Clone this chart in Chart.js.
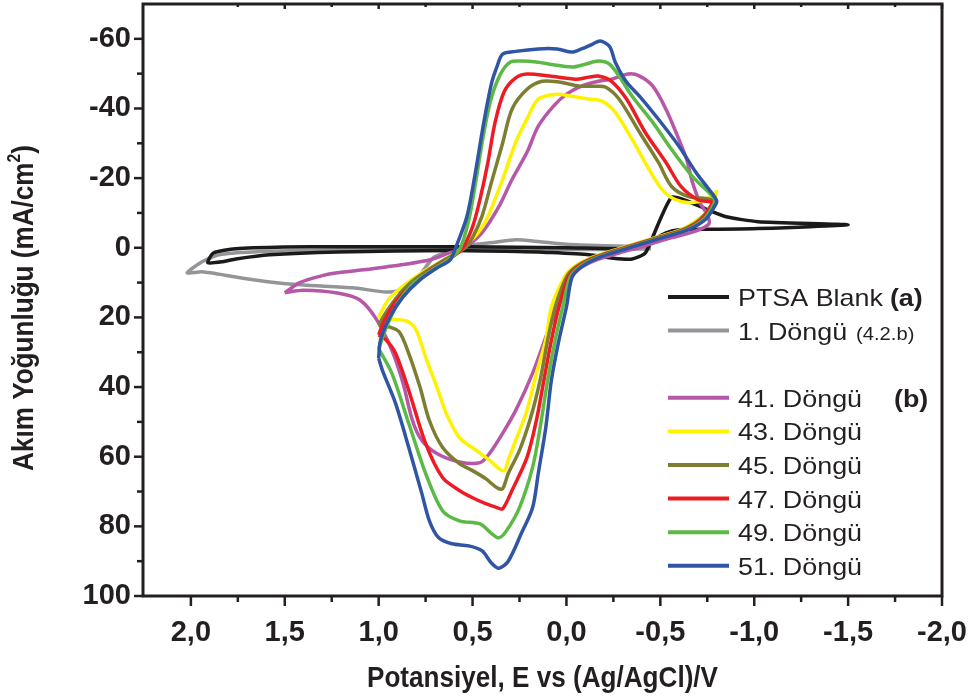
<!DOCTYPE html>
<html>
<head>
<meta charset="utf-8">
<script src="https://cdn.jsdelivr.net/npm/chart.js@4/dist/chart.umd.min.js"></script>
<style>
  html, body { margin: 0; padding: 0; background: #fff; }
</style>
</head>
<body>
<canvas id="chart" width="970" height="696"></canvas>
<script>
// Cyclic voltammograms: potential E (V vs Ag/AgCl) and current density J (mA/cm2)

var blankE = [0.15, 0.60, 1.22, 1.58, 1.76, 1.83, 1.91, 1.88, 1.76, 1.50, 1.22, 0.52, 0.00, -0.35, -0.44, -0.53, -0.60, -0.80, -1.02, -1.50, -1.02, -0.85, -0.74, -0.64, -0.56, -0.49, -0.42, -0.35, -0.25, -0.12, 0.15];
var blankJ = [1.2, 0.8, 1.2, 2.0, 3.2, 4.0, 4.3, 1.5, 0.3, -0.2, -0.3, -0.3, 0.0, 0.2, -1.7, -4.3, -5.2, -5.3, -5.5, -6.6, -7.5, -8.9, -11.2, -13.5, -14.5, -7.0, 1.5, 3.2, 3.0, 2.0, 1.2];

var cycle1E = [-0.45, -0.20, 0.00, 0.30, 0.60, 1.22, 1.67, 1.85, 1.94, 2.02, 1.94, 1.76, 1.58, 1.40, 1.14, 0.96, 0.87, 0.80, 0.71, 0.64, 0.50, 0.38, 0.27, 0.15, 0.00, -0.20, -0.45];
var cycle1J = [0.3, 0.5, 0.5, 0.5, 0.3, 0.6, 1.2, 2.0, 4.0, 7.2, 6.9, 8.4, 9.8, 10.7, 11.5, 12.7, 12.1, 9.2, 2.9, 1.4, -0.8, -1.6, -2.3, -1.8, -1.0, -0.6, -0.3];

var cycle41E = [1.50, 1.42, 1.30, 1.22, 0.96, 0.73, 0.62, 0.55, 0.45, 0.36, 0.29, 0.21, 0.15, 0.07, 0.00, -0.08, -0.17, -0.24, -0.33, -0.39, -0.46, -0.53, -0.60, -0.64, -0.67, -0.71, -0.75,
  -0.76, -0.72, -0.64, -0.52, -0.40, -0.28, -0.16, -0.07, -0.02, 0.02, 0.09, 0.18, 0.27, 0.34, 0.41, 0.46, 0.57, 0.69, 0.77, 0.82, 0.87, 0.93, 1.01, 1.10, 1.22, 1.40, 1.50];
var cycle41J = [12.9, 10.0, 8.0, 7.2, 5.5, 3.5, 1.4, 0.2, -4.3, -11.8, -19.6, -27.4, -34.9, -40.6, -44.1, -46.4, -47.8, -48.4, -49.9, -49.3, -46.4, -39.8, -31.0, -25.4, -19.0, -13.0, -9.5,
  -7.0, -5.5, -4.0, -2.3, -0.3, 1.5, 3.5, 6.0, 9.0, 14.0, 22.8, 36.0, 46.7, 53.3, 59.1, 61.7, 61.5, 59.1, 55.3, 49.6, 38.9, 29.4, 20.7, 15.0, 13.0, 12.2, 12.9];

var cycle43E = [1.00, 0.95, 0.87, 0.78, 0.70, 0.62, 0.53, 0.46, 0.41, 0.34, 0.27, 0.21, 0.15, 0.05, -0.03, -0.12, -0.19, -0.26, -0.35, -0.44, -0.51, -0.58, -0.67, -0.77, -0.80,
  -0.76, -0.70, -0.61, -0.49, -0.35, -0.26, -0.13, -0.04, 0.01, 0.08, 0.11, 0.16, 0.21, 0.27, 0.31, 0.33, 0.36, 0.41, 0.48, 0.57, 0.64, 0.69, 0.75, 0.80, 0.84, 0.89, 0.94, 1.00];
var cycle43J = [20.0, 15.0, 11.0, 7.5, 5.0, 2.5, -1.0, -5.0, -10.0, -19.6, -30.3, -37.0, -42.7, -44.1, -43.5, -42.7, -42.1, -38.9, -31.1, -22.5, -16.7, -13.8, -13.0, -14.7, -16.1,
  -11.0, -8.1, -5.2, -3.2, -0.9, 0.6, 2.9, 5.5, 8.4, 17.0, 26.5, 36.0, 46.7, 55.3, 61.0, 64.0, 63.4, 61.0, 58.2, 54.5, 47.6, 40.0, 31.4, 23.6, 21.3, 20.7, 20.5, 20.0];

var cycle45E = [1.00, 0.96, 0.90, 0.83, 0.74, 0.66, 0.54, 0.50, 0.45, 0.40, 0.34, 0.29, 0.21, 0.13, 0.04, -0.07, -0.16, -0.21, -0.28, -0.39, -0.49, -0.56, -0.65, -0.77,
  -0.77, -0.71, -0.62, -0.50, -0.36, -0.27, -0.14, -0.05, 0.00, 0.06, 0.10, 0.14, 0.19, 0.25, 0.31, 0.34, 0.37, 0.43, 0.50, 0.57, 0.66, 0.73, 0.78, 0.84, 0.89, 0.94, 1.00];
var cycle45J = [22.2, 18.5, 14.0, 10.0, 6.5, 3.8, 0.0, -3.0, -9.0, -18.7, -30.0, -39.8, -45.5, -47.8, -47.6, -46.4, -46.4, -46.1, -42.7, -33.1, -24.5, -17.6, -14.7, -13.8,
  -12.0, -8.1, -5.2, -3.2, -0.9, 0.6, 2.9, 5.5, 8.4, 17.0, 26.5, 38.0, 48.7, 58.2, 64.8, 69.2, 68.9, 66.3, 64.0, 62.0, 57.3, 49.6, 40.0, 30.3, 24.2, 22.8, 22.2];

var cycle47E = [1.00, 0.97, 0.91, 0.83, 0.74, 0.66, 0.56, 0.50, 0.46, 0.42, 0.38, 0.33, 0.27, 0.21, 0.09, -0.05, -0.12, -0.17, -0.24, -0.32, -0.42, -0.53, -0.61, -0.70, -0.78,
  -0.77, -0.72, -0.63, -0.51, -0.37, -0.28, -0.15, -0.06, -0.01, 0.04, 0.08, 0.12, 0.16, 0.21, 0.29, 0.34, 0.37, 0.43, 0.50, 0.57, 0.66, 0.75, 0.84, 0.91, 0.96, 1.00];
var cycle47J = [25.0, 21.0, 15.5, 11.0, 7.0, 4.3, 0.6, -6.0, -14.0, -24.0, -36.0, -45.0, -48.8, -49.9, -49.3, -48.4, -49.0, -49.3, -47.8, -42.7, -33.1, -24.5, -17.6, -13.8, -13.0,
  -12.0, -8.1, -5.2, -3.2, -0.9, 0.6, 2.9, 5.5, 8.4, 17.0, 26.5, 38.0, 49.6, 60.2, 69.7, 75.0, 74.6, 73.5, 71.8, 69.7, 66.0, 56.2, 40.9, 30.3, 26.5, 25.0];

var cycle49E = [1.00, 0.96, 0.90, 0.82, 0.72, 0.64, 0.57, 0.52, 0.48, 0.44, 0.40, 0.35, 0.30, 0.24, 0.15, 0.09, -0.03, -0.10, -0.17, -0.23, -0.28, -0.35, -0.46, -0.56, -0.67, -0.76, -0.79,
  -0.78, -0.73, -0.64, -0.52, -0.38, -0.29, -0.16, -0.07, -0.02, 0.02, 0.06, 0.10, 0.14, 0.18, 0.25, 0.32, 0.36, 0.40, 0.46, 0.57, 0.66, 0.75, 0.84, 0.93, 1.00];
var cycle49J = [29.0, 23.0, 16.0, 10.5, 6.5, 3.8, 0.6, -8.0, -20.0, -33.0, -43.0, -50.0, -53.3, -53.6, -53.3, -52.7, -51.9, -52.7, -53.6, -52.7, -49.3, -43.5, -36.0, -28.2, -20.5, -15.8, -13.8,
  -12.0, -8.1, -5.2, -3.2, -0.9, 0.6, 2.9, 5.5, 8.4, 17.0, 26.5, 38.0, 51.6, 63.0, 74.6, 81.3, 83.3, 82.0, 79.3, 78.4, 75.5, 64.8, 50.4, 36.0, 29.0];

var cycle51E = [1.00, 0.99, 0.94, 0.87, 0.78, 0.69, 0.62, 0.59, 0.53, 0.49, 0.44, 0.40, 0.37, 0.34, 0.27, 0.15, 0.05, -0.03, -0.08, -0.14, -0.18, -0.23, -0.26, -0.32, -0.39, -0.49, -0.60, -0.69, -0.76, -0.80,
  -0.79, -0.74, -0.65, -0.53, -0.39, -0.30, -0.17, -0.08, -0.03, 0.00, 0.04, 0.08, 0.11, 0.15, 0.18, 0.24, 0.31, 0.36, 0.40, 0.45, 0.52, 0.61, 0.68, 0.73, 0.77, 0.84, 0.91, 0.98, 1.00];
var cycle51J = [31.7, 26.5, 19.9, 14.1, 9.2, 5.8, 3.5, 0.0, -9.0, -20.0, -36.0, -47.0, -52.0, -55.6, -56.4, -57.1, -57.1, -56.2, -57.1, -58.5, -59.4, -57.8, -53.3, -47.6, -43.5, -36.9, -29.1, -21.6, -16.7, -13.5,
  -12.0, -8.1, -5.2, -3.2, -0.9, 0.6, 2.9, 5.5, 8.4, 17.0, 26.5, 38.0, 51.6, 64.8, 74.6, 82.0, 90.0, 92.0, 90.5, 87.0, 85.6, 85.0, 83.3, 78.4, 70.6, 57.3, 44.7, 35.2, 31.7];

var seriesNames = ['PTSA Blank', '1. Döngü', '41. Döngü', '43. Döngü', '45. Döngü', '47. Döngü', '49. Döngü', '51. Döngü'];
var xTicks = [2.0, 1.5, 1.0, 0.5, 0.0, -0.5, -1.0, -1.5, -2.0];
var yTicks = [-60, -40, -20, 0, 20, 40, 60, 80, 100];

var colors = ['#1a1a1a', '#939598', '#b657a8', '#fff200', '#7d7e31', '#ed1c24', '#5cb946', '#2f55a4'];
var INK = '#231f20';
var SANS = '"Liberation Sans", Arial, sans-serif';

function pts(e, j) {
  return e.map(function(v, i) { return { x: v, y: j[i] }; });
}

var curves = [
  [blankE, blankJ], [cycle1E, cycle1J], [cycle41E, cycle41J], [cycle43E, cycle43J],
  [cycle45E, cycle45J], [cycle47E, cycle47J], [cycle49E, cycle49J], [cycle51E, cycle51J]
];

var datasets = curves.map(function(c, i) {
  return {
    label: seriesNames[i],
    data: pts(c[0], c[1]),
    borderColor: colors[i],
    backgroundColor: colors[i],
    borderWidth: 3.5,
    showLine: true,
    pointRadius: 0,
    tension: i < 2 ? 0.2 : 0.3,
    order: i === 0 ? 7 : (i === 1 ? 8 : 8 - i)
  };
});

// text squeezed or widened horizontally
function scaledText(ctx, txt, x, y, font, sx) {
  ctx.save();
  ctx.font = font;
  ctx.translate(x, y);
  ctx.scale(sx, 1);
  ctx.fillText(txt, 0, 0);
  var w = ctx.measureText(txt).width * sx;
  ctx.restore();
  return w;
}

// frame, minor ticks, axis titles and the legend block
var decor = {
  id: 'decor',
  afterDraw: function(chart) {
    var ctx = chart.ctx, a = chart.chartArea;
    var xs = chart.scales.x, ys = chart.scales.y;
    ctx.save();
    ctx.strokeStyle = INK;
    ctx.lineCap = 'butt';

    function seg(x1, y1, x2, y2) {
      ctx.beginPath(); ctx.moveTo(x1, y1); ctx.lineTo(x2, y2); ctx.stroke();
    }

    ctx.lineWidth = 3;
    ctx.strokeRect(a.left, a.top, a.right - a.left, a.bottom - a.top);

    ctx.lineWidth = 2.5;
    for (var i = 0; i <= 16; i++) {
      var v = -2 + i * 0.25;
      var px = xs.getPixelForValue(v);
      var major = i % 2 === 0;
      seg(px, a.bottom, px, a.bottom + (major ? 10 : 6));
      if (i < 16) seg(px, a.top, px, a.top + (major ? 5 : 3));
    }
    for (var t = -60; t <= 100; t += 10) {
      var py = ys.getPixelForValue(t);
      seg(a.left, py, a.left - (t % 20 === 0 ? 9 : 6), py);
    }

    // axis titles
    ctx.fillStyle = INK;
    ctx.textBaseline = 'alphabetic';
    ctx.textAlign = 'left';
    var tf = 'bold 30px ' + SANS, sx = 0.87;
    ctx.font = tf;
    var xt = 'Potansiyel, E vs (Ag/AgCl)/V';
    var xw = ctx.measureText(xt).width * sx;
    scaledText(ctx, xt, (a.left + a.right) / 2 - xw / 2, 687, tf, sx);

    ctx.save();
    ctx.translate(33, (a.top + a.bottom) / 2 + 8);
    ctx.rotate(-Math.PI / 2);
    var main = 'Akım Yoğunluğu (mA/cm', tail = ')', sf = 'bold 18px ' + SANS;
    ctx.font = tf;
    var w1 = ctx.measureText(main).width * sx, w3 = ctx.measureText(tail).width * sx;
    ctx.font = sf;
    var w2 = ctx.measureText('2').width * sx;
    var x0 = -(w1 + w2 + w3) / 2;
    scaledText(ctx, main, x0, 0, tf, sx);
    scaledText(ctx, '2', x0 + w1, -13, sf, sx);
    scaledText(ctx, tail, x0 + w1 + w2, 0, tf, sx);
    ctx.restore();

    // legend
    var slots = [0, 1, 3, 4, 5, 6, 7, 8];
    seriesNames.forEach(function(name, k) {
      var ly = 297 + 33.6 * slots[k];
      ctx.strokeStyle = colors[k];
      ctx.lineWidth = 4;
      seg(668, ly, 729, ly);
      ctx.fillStyle = INK;
      var w = scaledText(ctx, name, 738, ly + 9, '24px ' + SANS, 1.12);
      if (k === 0) scaledText(ctx, '(a)', 738 + w + 7, ly + 9, 'bold 24px ' + SANS, 1.12);
      if (k === 1) scaledText(ctx, '(4.2.b)', 738 + w + 9, ly + 9, '18px ' + SANS, 1.12);
      if (k === 2) scaledText(ctx, '(b)', 894, ly + 9, 'bold 24px ' + SANS, 1.12);
    });
    ctx.restore();
  }
};

var ctx = document.getElementById('chart').getContext('2d');
var chart = new Chart(ctx, {
  type: 'scatter',
  data: { datasets: datasets },
  options: {
    responsive: false,
    animation: false,
    layout: { padding: { top: 4, right: 28, left: 0, bottom: 0 } },
    plugins: { legend: { display: false }, tooltip: { enabled: false } },
    scales: {
      x: {
        type: 'linear',
        min: -2,
        max: 2.255,
        reverse: true,
        grid: { display: false, drawTicks: false },
        border: { display: false },
        afterBuildTicks: function(s) { s.ticks = xTicks.map(function(v) { return { value: v }; }); },
        afterFit: function(s) { s.height = 100; s.paddingLeft = 0; s.paddingRight = 0; },
        ticks: {
          padding: 20,
          autoSkip: false,
          maxRotation: 0,
          color: INK,
          font: { family: SANS, size: 29, weight: 'bold' },
          callback: function(v) { return v.toFixed(1).replace('.', ','); }
        }
      },
      y: {
        type: 'linear',
        min: -70,
        max: 100,
        reverse: true,
        grid: { display: false, drawTicks: false },
        border: { display: false },
        afterBuildTicks: function(s) { s.ticks = yTicks.map(function(v) { return { value: v }; }); },
        afterFit: function(s) { s.width = 143; s.paddingTop = 0; s.paddingBottom = 0; },
        ticks: {
          padding: 12,
          autoSkip: false,
          color: INK,
          font: { family: SANS, size: 29, weight: 'bold' },
          callback: function(v) { return String(v); }
        }
      }
    }
  },
  plugins: [decor]
});
</script>
</body>
</html>
